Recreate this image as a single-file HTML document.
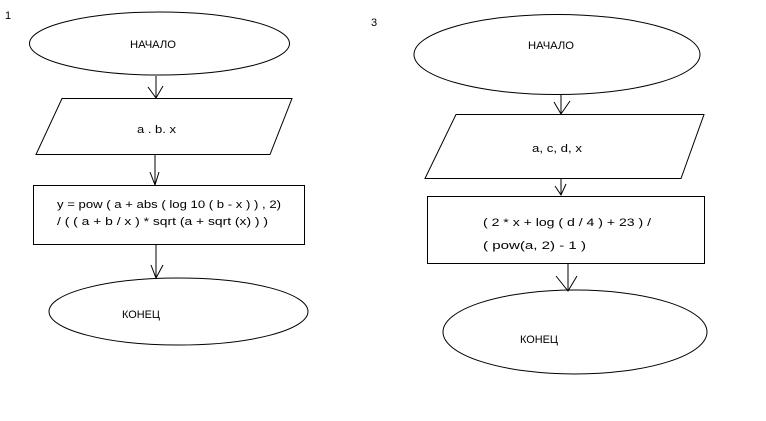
<!DOCTYPE html>
<html><head><meta charset="utf-8"><style>
html,body{margin:0;padding:0;background:#fff;}
svg{display:block}
text{font-family:"Liberation Sans",sans-serif;font-size:11px;fill:#000}
</style></head><body>
<svg width="766" height="421" viewBox="0 0 766 421" xmlns="http://www.w3.org/2000/svg" fill="none" stroke="#000" stroke-width="1">
<text x="5" y="19" stroke="none">1</text>
<text x="371" y="26" stroke="none">3</text>

<!-- left chart -->
<ellipse cx="159.5" cy="43.5" rx="130" ry="31.5"/>
<text x="130" y="48" stroke="none" textLength="46" lengthAdjust="spacingAndGlyphs">НАЧАЛО</text>
<line x1="156" y1="76" x2="156" y2="98"/>
<polyline points="148,87 156,98 163,86"/>
<polygon points="62,98.5 292,98.5 270,154.5 36,154.5"/>
<text x="137" y="133" stroke="none" textLength="39" lengthAdjust="spacingAndGlyphs">a . b. x</text>
<line x1="155" y1="155" x2="155" y2="186"/>
<polyline points="150,172 155,185 159,172"/>
<rect x="33.5" y="185.5" width="271" height="59"/>
<text x="57" y="208" stroke="none" textLength="224" lengthAdjust="spacingAndGlyphs">y = pow ( a + abs ( log 10 ( b - x ) ) , 2)</text>
<text x="57" y="225" stroke="none" textLength="211" lengthAdjust="spacingAndGlyphs">/ ( ( a + b / x ) * sqrt (a + sqrt (x) ) )</text>
<line x1="156" y1="245" x2="156" y2="278"/>
<polyline points="151,265 156,278 163,265"/>
<ellipse cx="178.5" cy="311.5" rx="129.5" ry="33.5"/>
<text x="122" y="318" stroke="none" textLength="38" lengthAdjust="spacingAndGlyphs">КОНЕЦ</text>

<!-- right chart -->
<ellipse cx="557" cy="54.5" rx="143" ry="40"/>
<text x="528" y="49" stroke="none" textLength="46" lengthAdjust="spacingAndGlyphs">НАЧАЛО</text>
<line x1="561" y1="95" x2="561" y2="114"/>
<polyline points="554,102 561,114 570,101"/>
<polygon points="456,114.5 704,114.5 681,178.5 425,178.5"/>
<text x="532" y="152" stroke="none" textLength="50" lengthAdjust="spacingAndGlyphs">a, c, d, x</text>
<line x1="561" y1="179" x2="561" y2="195"/>
<polyline points="555,186 561,195 566,184"/>
<rect x="427.5" y="196.5" width="277" height="67"/>
<text x="483" y="226" stroke="none" textLength="168" lengthAdjust="spacingAndGlyphs">( 2 * x + log ( d / 4 ) + 23 ) /</text>
<text x="483" y="249" stroke="none" textLength="103" lengthAdjust="spacingAndGlyphs">( pow(a, 2)  - 1 )</text>
<line x1="568" y1="263" x2="568" y2="291"/>
<polyline points="556,276 568,291 577,276"/>
<ellipse cx="575" cy="332" rx="132" ry="42"/>
<text x="520" y="343" stroke="none" textLength="38" lengthAdjust="spacingAndGlyphs">КОНЕЦ</text>
</svg>
</body></html>
